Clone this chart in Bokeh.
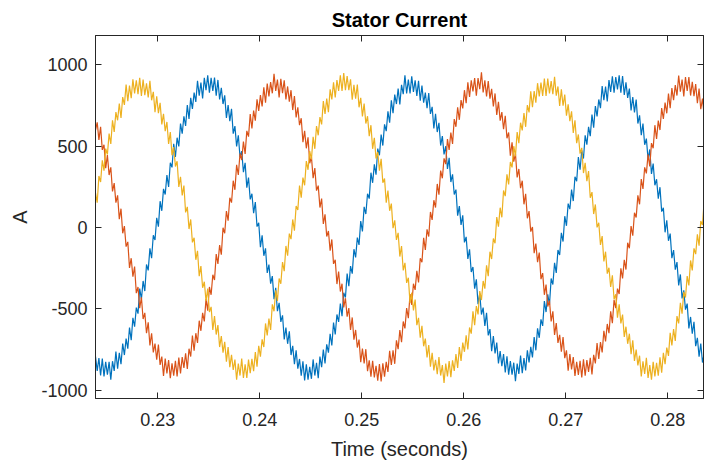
import numpy as np
from bokeh.plotting import figure
from bokeh.models import LinearAxis, FixedTicker, Range1d, ColumnDataSource
from bokeh.embed import file_html
from bokeh.resources import INLINE

# sampling grid of the recorded waveform (seconds)
t_start = 0.2239
t_step = 0.02 / 120

# phase currents (A)
phase_a = [
    -792, -880, -801, -909, -805, -914, -825, -904, -825, -934,
    -821, -880, -762, -867, -769, -839, -712, -783, -682, -744,
    -614, -692, -554, -609, -492, -529, -375, -440, -328, -390,
    -227, -263, -128, -188, -47, -76, 60, 6, 162, 103,
    238, 203, 322, 250, 398, 370, 515, 434, 552, 499,
    639, 577, 684, 624, 752, 668, 797, 729, 829, 772,
    902, 810, 891, 794, 920, 844, 935, 829, 920, 839,
    921, 810, 907, 787, 859, 759, 812, 673, 752, 654,
    729, 577, 624, 499, 567, 434, 470, 340, 398, 245,
    307, 173, 208, 88, 157, 6, 30, -121, -47, -173,
    -128, -278, -227, -345, -298, -440, -370, -514, -462, -579,
    -539, -687, -614, -714, -637, -783, -727, -839, -754, -867,
    -807, -910, -821, -939, -840, -934, -855, -929, -810, -909,
    -831, -925, -792, -857, -749, -834, -717, -768, -652, -724,
    -584, -657, -534, -579, -467, -544, -400, -430, -283, -360,
    -237, -283, -133, -183, -62, -106, 40, -24, 127, 83,
    208, 178, 337, 275, 388, 325, 485, 444, 572, 504,
    634, 592, 714, 644, 782, 703, 817, 759, 854, 757,
    877, 820, 936, 824, 910, 824, 930, 834, 905, 809,
    901, 780, 872, 767, 829, 734, 827, 698, 742, 609,
    699, 587, 644, 504, 562, 449, 500, 360, 428, 280,
    327, 203, 233, 73, 132, 16, 75, -91, -57, -193,
    -133, -273, -242, -375, -318, -470, -405, -534, -492, -604,
    -524, -662, -624, -759, -667, -773, -707, -834, -759, -852,
    -777, -890, -791, -904, -820, -904, -830, -944, -835, -899,
    -786, -895, -802, -877, -754, -829, -732, -798, -672, -754,
    -619, -677, -564, -604, -452, -519, -410, -475, -313, -350,
    -217, -278, -138, -168, -32, -86, 70, 11, 147, 113,
    233, 163, 312, 285, 433, 355, 475, 424, 567, 509,
    619, 562, 694, 614, 747, 683, 787, 734, 869, 782,
    867, 775, 906, 834, 930, 829, 925, 849, 935, 829,
    931, 815, 892, 797, 854, 719, 802, 708, 787, 639,
    689, 567, 639, 509, 547, 419, 480, 330, 393, 260,
    297, 178, 248, 98, 122, -29, 45, -81, -37, -188,
    -138, -258, -212, -355, -288, -435, -385, -504, -467, -619,
    -549, -652, -579, -729, -677, -793, -712, -829, -774,
]

phase_b = [
    599, 647, 539, 619, 477, 509, 365, 445, 323, 370,
    222, 273, 153, 198, 52, 116, -35, 9, -117, -88,
    -248, -188, -302, -240, -403, -365, -495, -429, -562, -524,
    -649, -582, -724, -649, -767, -713, -812, -719, -844, -792,
    -912, -805, -896, -814, -925, -834, -910, -819, -915, -799,
    -896, -795, -862, -772, -869, -744, -792, -663, -757, -649,
    -709, -572, -634, -524, -577, -439, -510, -365, -413, -290,
    -322, -163, -223, -108, -167, -1, -35, 101, 42, 183,
    153, 288, 232, 385, 323, 455, 415, 529, 452, 594,
    559, 697, 609, 719, 657, 788, 717, 814, 744, 862,
    767, 885, 806, 894, 825, 944, 840, 909, 800, 914,
    826, 905, 787, 867, 774, 844, 722, 808, 677, 739,
    629, 672, 524, 594, 487, 554, 395, 435, 303, 365,
    227, 258, 123, 178, 22, 81, -55, -21, -142, -73,
    -223, -198, -347, -270, -393, -345, -490, -434, -547, -494,
    -629, -552, -689, -629, -737, -688, -827, -744, -834, -747,
    -882, -815, -916, -819, -920, -849, -940, -839, -945, -834,
    -916, -825, -887, -757, -844, -754, -837, -693, -747, -629,
    -704, -577, -619, -494, -557, -409, -475, -345, -383, -265,
    -337, -188, -213, -63, -137, -11, -55, 96, 47, 168,
    123, 268, 202, 350, 303, 425, 390, 544, 477, 584,
    514, 667, 619, 739, 662, 783, 732, 844, 764, 892,
    802, 905, 836, 919, 810, 919, 850, 954, 830, 904,
    806, 900, 792, 852, 744, 824, 692, 773, 657, 709,
    604, 687, 549, 584, 442, 524, 405, 455, 308, 360,
    242, 288, 143, 208, 57, 101, -25, 4, -157, -98,
    -213, -153, -317, -280, -413, -350, -485, -449, -577, -514,
    -659, -587, -709, -659, -762, -673, -802, -754, -879, -777,
    -872, -795, -911, -824, -905, -819, -920, -809, -910, -814,
    -886, -800, -902, -782, -834, -709, -807, -703, -767, -634,
    -699, -592, -649, -514, -587, -444, -495, -375, -408, -250,
    -312, -198, -258, -93, -127, 9, -50, 91, 62, 198,
    143, 298, 237, 370, 333, 450, 375, 519, 487, 629,
    544, 657, 599, 734, 667, 768, 702, 824, 734, 857,
    782, 875, 811, 934, 835, 909, 805, 924, 840, 924,
    811, 895, 807, 882, 764, 854, 727, 793, 687,
]

phase_c = [
    213, 153, 317, 280, 413, 350, 485, 449, 577, 514,
    659, 587, 709, 659, 762, 673, 802, 754, 879, 777,
    872, 795, 911, 824, 905, 819, 920, 809, 910, 814,
    886, 800, 902, 782, 834, 709, 807, 703, 767, 634,
    699, 592, 649, 514, 587, 444, 495, 375, 408, 250,
    312, 198, 258, 93, 127, -9, 50, -91, -62, -198,
    -143, -298, -237, -370, -333, -450, -375, -519, -487, -629,
    -544, -657, -599, -734, -667, -768, -702, -824, -734, -857,
    -782, -875, -811, -934, -835, -909, -805, -924, -840, -924,
    -811, -895, -807, -882, -764, -854, -727, -793, -687, -734,
    -589, -662, -559, -629, -472, -514, -385, -450, -313, -345,
    -212, -268, -113, -173, -37, -71, 50, -19, 132, 108,
    258, 183, 307, 260, 408, 355, 470, 419, 557, 484,
    624, 567, 679, 634, 777, 698, 792, 709, 849, 787,
    892, 800, 906, 839, 935, 839, 950, 844, 930, 844,
    911, 785, 877, 792, 879, 739, 797, 683, 762, 639,
    684, 562, 629, 484, 552, 424, 465, 350, 423, 275,
    302, 153, 228, 103, 147, -4, 45, -76, -32, -178,
    -113, -263, -217, -340, -308, -465, -400, -509, -442, -599,
    -554, -677, -604, -729, -682, -798, -722, -854, -769, -877,
    -812, -900, -796, -909, -845, -954, -835, -914, -820, -919,
    -816, -880, -777, -862, -734, -819, -707, -763, -662, -749,
    -614, -652, -514, -599, -482, -534, -390, -445, -328, -375,
    -232, -298, -148, -193, -67, -96, 65, 6, 122, 63,
    228, 193, 327, 265, 403, 370, 500, 439, 587, 519,
    644, 597, 704, 619, 752, 708, 837, 739, 839, 767,
    887, 805, 891, 809, 915, 809, 915, 824, 900, 819,
    926, 810, 867, 747, 849, 749, 817, 688, 757, 654,
    714, 582, 659, 519, 572, 454, 490, 335, 398, 285,
    347, 183, 218, 83, 142, 1, 30, -106, -52, -208,
    -148, -283, -247, -365, -293, -440, -410, -554, -472, -589,
    -534, -672, -609, -714, -652, -778, -692, -819, -749, -847,
    -787, -915, -821, -899, -800, -924, -845, -934, -825, -914,
    -831, -910, -797, -892, -769, -839, -737, -788, -647, -724,
    -624, -697, -544, -589, -462, -529, -395, -430, -298, -355,
    -202, -263, -128, -163, -42, -111, 40, 16, 167,
]

x_ticks = [0.23, 0.24, 0.25, 0.26, 0.27, 0.28]
x_tick_labels = ["0.23", "0.24", "0.25", "0.26", "0.27", "0.28"]
y_ticks = [-1000, -500, 0, 500, 1000]
y_tick_labels = ["-1000", "-500", "0", "500", "1000"]

series_colors = ["#0072BD", "#D95319", "#EDB120"]

t = t_start + t_step * np.arange(len(phase_a))
source = ColumnDataSource(data=dict(t=t, a=phase_a, b=phase_b, c=phase_c))

FONT = "Liberation Sans"
AX = "#262626"

p = figure(
    frame_width=608, frame_height=363,
    x_range=Range1d(0.2239, 0.2835), y_range=Range1d(-1050, 1180),
    output_backend="svg", toolbar_location=None,
    min_border_left=95, min_border_right=2, min_border_top=35, min_border_bottom=64,
    x_axis_label="Time (seconds)", y_axis_label="A",
    background_fill_color="white", border_fill_color="white",
)

p.title.text = "Stator Current"
p.title.align = "center"
p.title.text_font = FONT
p.title.text_font_size = "20px"
p.title.text_font_style = "bold"
p.title.text_color = "#000000"
p.title.standoff = 9

p.xgrid.visible = False
p.ygrid.visible = False
p.outline_line_color = AX
p.outline_line_width = 1

for ax, ticks, labels in ((p.xaxis[0], x_ticks, x_tick_labels), (p.yaxis[0], y_ticks, y_tick_labels)):
    ax.ticker = FixedTicker(ticks=ticks)
    ax.major_label_overrides = dict(zip(ticks, labels))
    ax.major_label_text_font = FONT
    ax.major_label_text_font_size = "18px"
    ax.major_label_text_color = AX
    ax.axis_label_text_font = FONT
    ax.axis_label_text_font_size = "20px"
    ax.axis_label_text_font_style = "normal"
    ax.axis_label_text_color = AX
    ax.axis_line_color = AX
    ax.major_tick_line_color = AX
    ax.major_tick_in = 6
    ax.major_tick_out = 0
    ax.minor_tick_in = 0
    ax.minor_tick_out = 0

p.xaxis[0].major_label_standoff = 14
p.xaxis[0].axis_label_standoff = 9
p.yaxis[0].major_label_standoff = 8
p.yaxis[0].axis_label_standoff = 7

# tick marks on the top and right edges of the box (no labels there)
top = LinearAxis(ticker=FixedTicker(ticks=x_ticks), major_label_text_color=None,
                 major_label_standoff=0, major_tick_in=6, major_tick_out=0,
                 minor_tick_in=0, minor_tick_out=0, axis_line_color=AX,
                 major_tick_line_color=AX)
right = LinearAxis(ticker=FixedTicker(ticks=y_ticks), major_label_text_color=None,
                   major_label_standoff=0, major_tick_in=6, major_tick_out=0,
                   minor_tick_in=0, minor_tick_out=0, axis_line_color=AX,
                   major_tick_line_color=AX)
p.add_layout(top, "above")
p.add_layout(right, "right")

for col, color in zip(["a", "b", "c"], series_colors):
    p.line("t", col, source=source, line_color=color, line_width=1.2)

open("out.html", "w").write(file_html(p, INLINE))
